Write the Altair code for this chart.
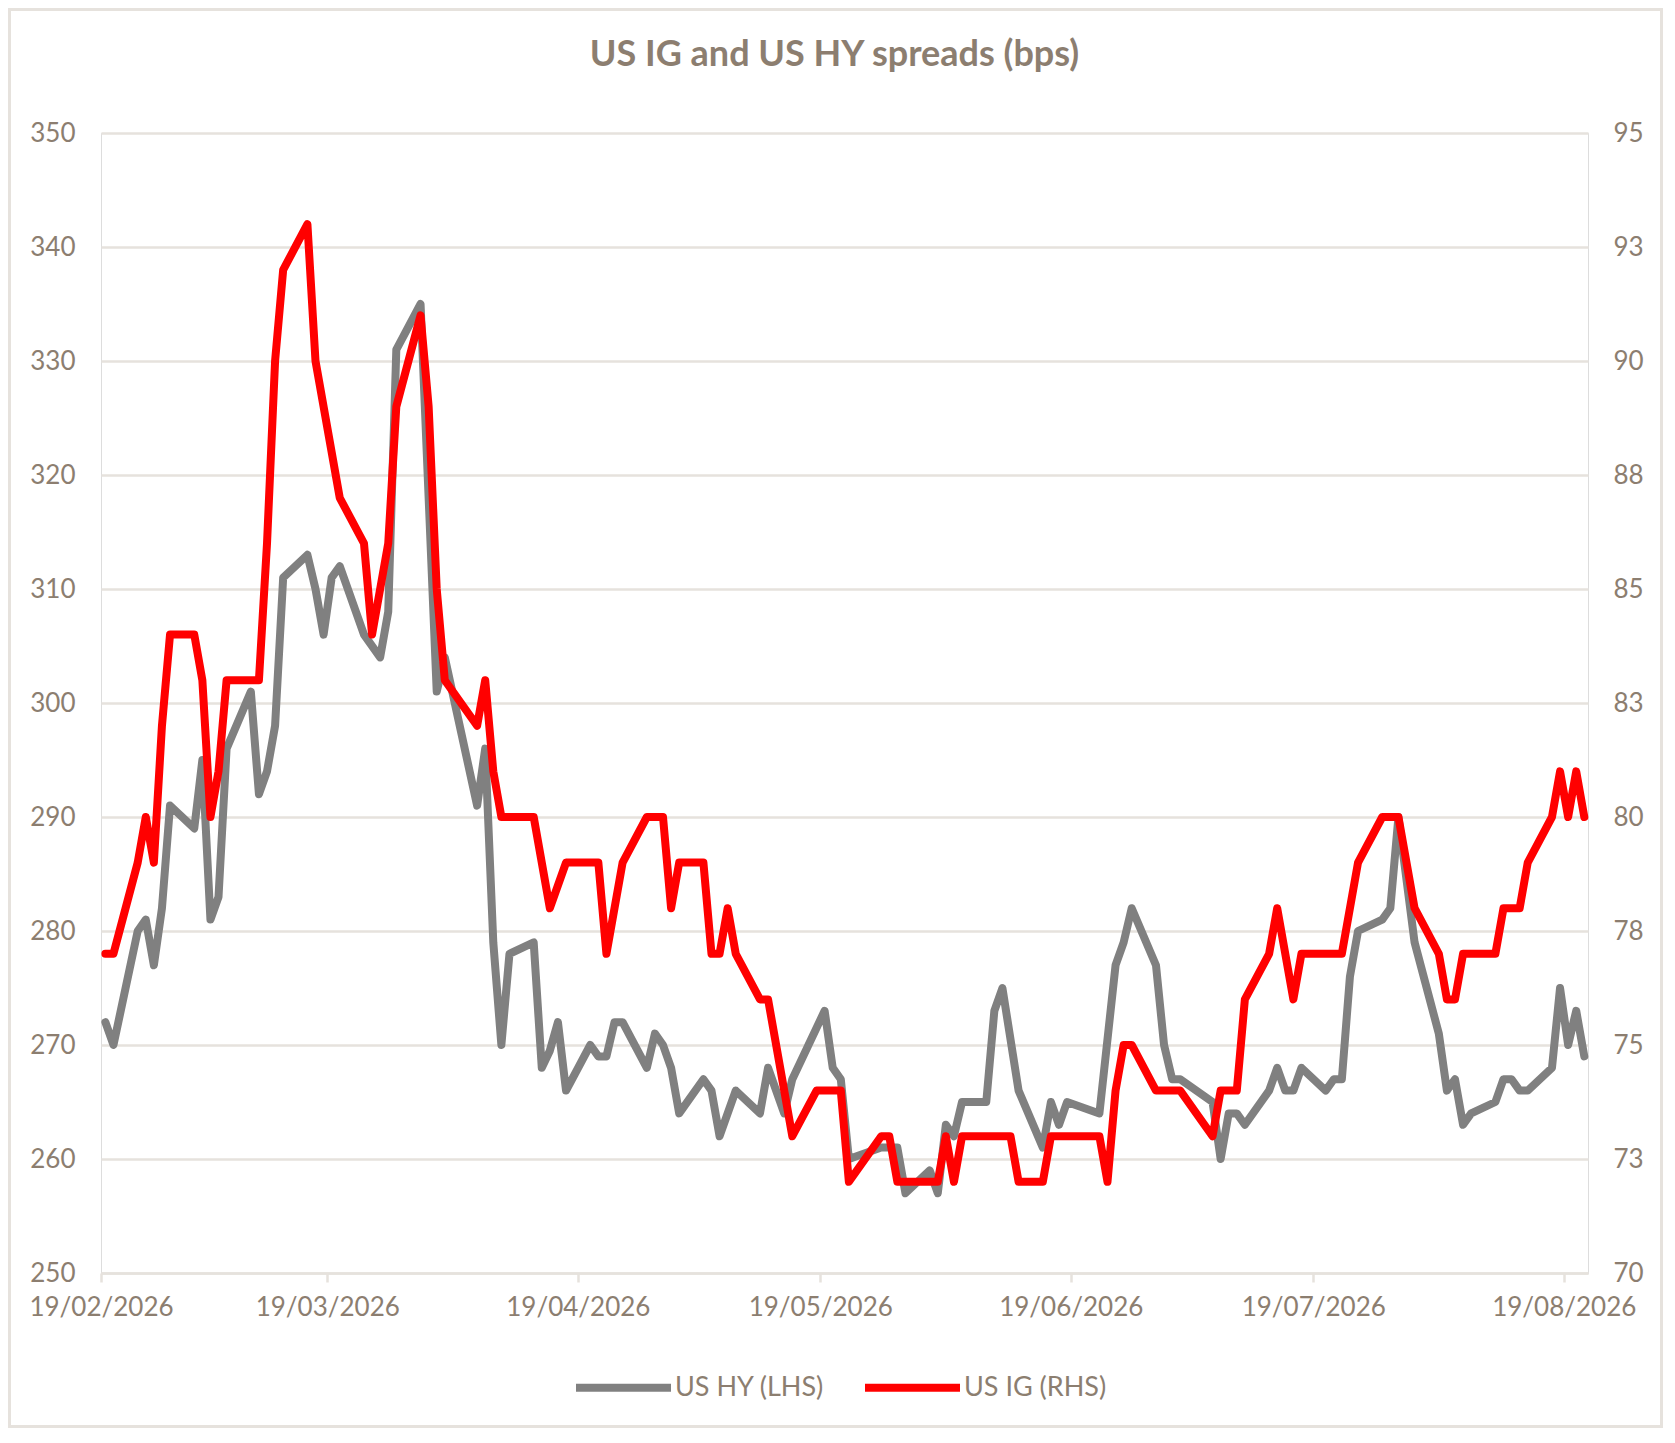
import altair as alt
import pandas as pd

# ---- data ----
hy_dates = [
    "2026-02-19", "2026-02-20", "2026-02-23", "2026-02-24", "2026-02-25", "2026-02-26", "2026-02-27",
    "2026-03-02", "2026-03-03", "2026-03-04", "2026-03-05", "2026-03-06", "2026-03-09", "2026-03-10",
    "2026-03-11", "2026-03-12", "2026-03-13", "2026-03-16", "2026-03-17", "2026-03-18", "2026-03-19",
    "2026-03-20", "2026-03-23", "2026-03-25", "2026-03-26", "2026-03-27", "2026-03-30", "2026-04-01",
    "2026-04-02", "2026-04-06", "2026-04-07", "2026-04-08", "2026-04-09", "2026-04-10", "2026-04-13",
    "2026-04-14", "2026-04-15", "2026-04-16", "2026-04-17", "2026-04-20", "2026-04-21", "2026-04-22",
    "2026-04-23", "2026-04-24", "2026-04-27", "2026-04-28", "2026-04-29", "2026-04-30", "2026-05-01",
    "2026-05-04", "2026-05-05", "2026-05-06", "2026-05-08", "2026-05-11", "2026-05-12", "2026-05-14",
    "2026-05-15", "2026-05-19", "2026-05-20", "2026-05-21", "2026-05-22", "2026-05-26", "2026-05-28",
    "2026-05-29", "2026-06-01", "2026-06-02", "2026-06-03", "2026-06-04", "2026-06-05", "2026-06-08",
    "2026-06-09", "2026-06-10", "2026-06-12", "2026-06-15", "2026-06-16", "2026-06-17", "2026-06-18",
    "2026-06-22", "2026-06-24", "2026-06-25", "2026-06-26", "2026-06-29", "2026-06-30", "2026-07-01",
    "2026-07-02", "2026-07-06", "2026-07-07", "2026-07-08", "2026-07-09", "2026-07-10", "2026-07-13",
    "2026-07-14", "2026-07-15", "2026-07-16", "2026-07-17", "2026-07-20", "2026-07-21", "2026-07-22",
    "2026-07-23", "2026-07-24", "2026-07-27", "2026-07-28", "2026-07-29", "2026-07-31", "2026-08-03",
    "2026-08-04", "2026-08-05", "2026-08-06", "2026-08-07", "2026-08-10", "2026-08-11", "2026-08-12",
    "2026-08-13", "2026-08-14", "2026-08-17", "2026-08-18", "2026-08-19", "2026-08-20", "2026-08-21",
]
hy_values = [
    272, 270, 280, 281, 277, 282, 291,
    289, 295, 281, 283, 296, 301, 292,
    294, 298, 311, 313, 310, 306, 311,
    312, 306, 304, 308, 331, 335, 301,
    304, 291, 296, 279, 270, 278, 279,
    268, 269.5, 272, 266, 270, 269, 269,
    272, 272, 268, 271, 270, 268, 264,
    267, 266, 262, 266, 264, 268, 264,
    267, 273, 268, 267, 260, 261, 261,
    257, 259, 257, 263, 262, 265, 265,
    273, 275, 266, 261, 265, 263, 265,
    264, 277, 279, 282, 277, 270, 267,
    267, 265, 260, 264, 264, 263, 266,
    268, 266, 266, 268, 266, 267, 267,
    276, 280, 281, 282, 290, 279, 271,
    266, 267, 263, 264, 265, 267, 267,
    266, 266, 268, 275, 270, 273, 269,
]

ig_dates = [
    "2026-02-19", "2026-02-20", "2026-02-23", "2026-02-24", "2026-02-25", "2026-02-26", "2026-02-27",
    "2026-03-02", "2026-03-03", "2026-03-04", "2026-03-05", "2026-03-06", "2026-03-10", "2026-03-11",
    "2026-03-12", "2026-03-13", "2026-03-16", "2026-03-17", "2026-03-20", "2026-03-23", "2026-03-24",
    "2026-03-26", "2026-03-27", "2026-03-30", "2026-03-31", "2026-04-01", "2026-04-02", "2026-04-06",
    "2026-04-07", "2026-04-08", "2026-04-09", "2026-04-13", "2026-04-15", "2026-04-17", "2026-04-21",
    "2026-04-22", "2026-04-24", "2026-04-27", "2026-04-29", "2026-04-30", "2026-05-01", "2026-05-04",
    "2026-05-05", "2026-05-06", "2026-05-07", "2026-05-08", "2026-05-11", "2026-05-12", "2026-05-15",
    "2026-05-18", "2026-05-21", "2026-05-22", "2026-05-26", "2026-05-27", "2026-05-28", "2026-06-02",
    "2026-06-03", "2026-06-04", "2026-06-05", "2026-06-11", "2026-06-12", "2026-06-15", "2026-06-16",
    "2026-06-22", "2026-06-23", "2026-06-24", "2026-06-25", "2026-06-26", "2026-06-29", "2026-07-02",
    "2026-07-06", "2026-07-07", "2026-07-09", "2026-07-10", "2026-07-13", "2026-07-14", "2026-07-16",
    "2026-07-17", "2026-07-22", "2026-07-24", "2026-07-27", "2026-07-29", "2026-07-31", "2026-08-03",
    "2026-08-04", "2026-08-05", "2026-08-06", "2026-08-10", "2026-08-11", "2026-08-13", "2026-08-14",
    "2026-08-17", "2026-08-18", "2026-08-19", "2026-08-20", "2026-08-21",
]
ig_values = [
    77, 77, 79, 80, 79, 82, 84,
    84, 83, 80, 81, 83, 83, 86,
    90, 92, 93, 90, 87, 86, 84,
    86, 89, 91, 89, 85, 83, 82,
    83, 81, 80, 80, 78, 79, 79,
    77, 79, 80, 80, 78, 79, 79,
    77, 77, 78, 77, 76, 76, 73,
    74, 74, 72, 73, 73, 72, 72,
    73, 72, 73, 73, 72, 72, 73,
    73, 72, 74, 75, 75, 74, 74,
    73, 74, 74, 76, 77, 78, 76,
    77, 77, 79, 80, 80, 78, 77,
    76, 76, 77, 77, 78, 78, 79,
    80, 81, 80, 81, 80,
]

series_names = ["US HY (LHS)", "US IG (RHS)"]
series_colors = ["#808080", "#FF0000"]

left_ticks = [250, 260, 270, 280, 290, 300, 310, 320, 330, 340, 350]
right_ticks = [70, 72.5, 75, 77.5, 80, 82.5, 85, 87.5, 90, 92.5, 95]
tick_months = [2, 3, 4, 5, 6, 7, 8]

# the source plots each daily value a little after the start of its day
hy_df = pd.DataFrame({"date": [d + "T13:00:00Z" for d in hy_dates], "value": hy_values, "series": series_names[0]})
ig_df = pd.DataFrame({"date": [d + "T13:00:00Z" for d in ig_dates], "value": ig_values, "series": series_names[1]})

TEXT = "#8C7E70"
GRID = "#E6E2DD"
FONT = "Lato"

W, H = 1487, 1140
PAD = {"left": 93, "top": 125, "right": 75, "bottom": 155}

x_enc = alt.X(
    "date:T",
    scale=alt.Scale(
        type="utc",
        domain=[
            alt.DateTime(year=2026, month=2, date=19, utc=True),
            alt.DateTime(year=2026, month=8, date=22, utc=True),
        ],
    ),
    axis=alt.Axis(
        values=[alt.DateTime(year=2026, month=m, date=19, utc=True) for m in tick_months],
        format="%d/%m/%Y",
        title=None,
        grid=False,
        domainColor=GRID,
        domainWidth=2.5,
        tickColor=GRID,
        tickWidth=2.5,
        tickSize=9,
        labelPadding=12,
        labelFontSize=26,
        labelColor=TEXT,
        labelFont=FONT,
        labelOverlap=False,
        labelFlush=False,
    ),
)

color_enc = alt.Color(
    "series:N",
    scale=alt.Scale(domain=series_names, range=series_colors),
    legend=alt.Legend(
        title=None,
        orient="none",
        legendX=471,
        legendY=1203,
        direction="horizontal",
        symbolType="stroke",
        symbolSize=9025,
        symbolStrokeWidth=8,
        labelFontSize=27,
        labelColor=TEXT,
        labelFont=FONT,
        labelOffset=0,
        columnPadding=24,
        padding=0,
    ),
)

hy_line = alt.Chart(hy_df).mark_line(strokeWidth=8, strokeCap="round", strokeJoin="round").encode(
    x=x_enc,
    y=alt.Y(
        "value:Q",
        scale=alt.Scale(domain=[250, 350], nice=False, zero=False),
        axis=alt.Axis(
            values=left_ticks,
            title=None,
            domain=False,
            ticks=False,
            tickSize=0,
            labelPadding=26,
            labelFontSize=26,
            labelColor=TEXT,
            labelFont=FONT,
            grid=True,
            gridColor=GRID,
            gridWidth=2.5,
        ),
    ),
    color=color_enc,
)

ig_line = alt.Chart(ig_df).mark_line(strokeWidth=8, strokeCap="round", strokeJoin="round").encode(
    x=x_enc,
    y=alt.Y(
        "value:Q",
        scale=alt.Scale(domain=[70, 95], nice=False, zero=False),
        axis=alt.Axis(
            orient="right",
            values=right_ticks,
            format=".0f",
            title=None,
            domain=False,
            ticks=False,
            tickSize=0,
            labelPadding=25,
            labelFontSize=26,
            labelColor=TEXT,
            labelFont=FONT,
            grid=False,
        ),
    ),
    color=color_enc,
)

# light frame round the whole chart, as in the source image
frame = alt.Chart(pd.DataFrame({"frame": [0]})).mark_rect(
    filled=False, stroke=GRID, strokeWidth=3
).encode(
    x=alt.value(-PAD["left"] + 1.5),
    x2=alt.value(W + PAD["right"] - 1.5),
    y=alt.value(-PAD["top"] + 1.5),
    y2=alt.value(H + PAD["bottom"] - 1.5),
)

chart = (
    alt.layer(frame, hy_line, ig_line)
    .resolve_scale(y="independent")
    .properties(
        width=W,
        height=H,
        padding=PAD,
        autosize=alt.AutoSizeParams(type="none"),
        title=alt.TitleParams(
            "US IG and US HY spreads (bps)",
            fontSize=36,
            fontWeight="bold",
            color=TEXT,
            font=FONT,
            anchor="middle",
            offset=-66,
            dx=-10,
        ),
    )
    .configure_view(stroke=None)
    .configure(background="white")
)

chart.save("out.html", embed_options={"renderer": "svg", "actions": False})
